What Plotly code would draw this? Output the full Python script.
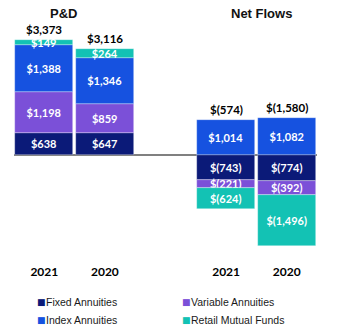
import plotly.graph_objects as go

# Segment values ($ millions) per bar: P&D 2021, P&D 2020, Net Flows 2021, Net Flows 2020
groups = ["P&D", "P&D", "Net Flows", "Net Flows"]
years = ["2021", "2020", "2021", "2020"]
fixed_annuities = [638, 647, -743, -774]
variable_annuities = [1198, 859, -221, -392]
index_annuities = [1388, 1346, 1014, 1082]
retail_mutual_funds = [149, 264, -624, -1496]
totals = [3373, 3116, -574, -1580]

series = [
    ("Fixed Annuities", fixed_annuities, "#0b1a78"),
    ("Variable Annuities", variable_annuities, "#7b50d8"),
    ("Index Annuities", index_annuities, "#1652e0"),
    ("Retail Mutual Funds", retail_mutual_funds, "#13c2b4"),
]


def money(v):
    return f"${v:,}" if v >= 0 else f"$({-v:,})"


# slot positions: two bars per group, one empty slot between groups
group_order = list(dict.fromkeys(groups))
xpos = []
for g, y in zip(groups, years):
    gi = group_order.index(g)
    yi = [yy for gg, yy in zip(groups, years) if gg == g].index(y)
    xpos.append(gi * 3 + yi)

NUM_FONT = "Lato"
fig = go.Figure()
for name, vals, color in series:
    fig.add_trace(go.Bar(
        x=xpos, y=vals, name=name, width=0.96,
        marker=dict(color=color, line=dict(color="rgba(255,255,255,0.55)", width=0.6)),
        text=[money(v) for v in vals], textposition="inside",
        insidetextanchor="middle", textangle=0,
        textfont=dict(family=NUM_FONT, size=11, color="white", weight="bold"),
        showlegend=False, hoverinfo="skip",
    ))

# totals above the positive part of each stack
for x, t, *vals in zip(xpos, totals, fixed_annuities, variable_annuities,
                        index_annuities, retail_mutual_funds):
    top = sum(v for v in vals if v > 0)
    fig.add_annotation(x=x, y=top, text=money(t), showarrow=False,
                       yanchor="bottom", yshift=2,
                       font=dict(family=NUM_FONT, size=11.5, color="black", weight="bold"))

# group headings
for label, xc in zip(group_order, [0.31, 3.58]):
    fig.add_annotation(x=xc, y=1.051, yref="paper", text=f"<b>{label}</b>",
                       showarrow=False, yanchor="middle",
                       font=dict(family="Liberation Sans", size=13, color="#111111"))

# legend: colour swatch + label, two columns
swatch_x = [0.0726, 0.551, 0.0726, 0.551]
label_x = [0.1023, 0.581, 0.1023, 0.581]
row_y = [-0.179, -0.179, -0.256, -0.256]
for (name, _, color), sx, lx, ly in zip(series, swatch_x, label_x, row_y):
    fig.add_annotation(
        x=sx, y=ly, xref="paper", yref="paper", xanchor="left", yanchor="middle",
        showarrow=False, text="■", borderpad=0,
        font=dict(family="DejaVu Sans", size=9, color=color))
    fig.add_annotation(
        x=lx, y=ly, xref="paper", yref="paper", xanchor="left", yanchor="middle",
        showarrow=False, text=name, borderpad=0,
        font=dict(family="Liberation Sans", size=10.5, color="#1a1a1a"))

fig.update_layout(
    width=337, height=329,
    margin=dict(l=14, r=20, t=25, b=69),
    barmode="relative", bargap=0,
    plot_bgcolor="white", paper_bgcolor="white",
    showlegend=False,
    uniformtext=dict(minsize=11, mode="show"),
)
fig.update_xaxes(range=[-0.5, 4.5], tickvals=xpos, ticktext=years,
                 showgrid=False, zeroline=False, showline=False, ticks="",
                 ticklabelstandoff=3,
                 tickfont=dict(family=NUM_FONT, size=12, color="black", weight="bold"))
fig.update_yaxes(range=[-3080, 3813], showgrid=False, showticklabels=False,
                 zeroline=True, zerolinecolor="#808080", zerolinewidth=2)

fig.write_html("out.html")
